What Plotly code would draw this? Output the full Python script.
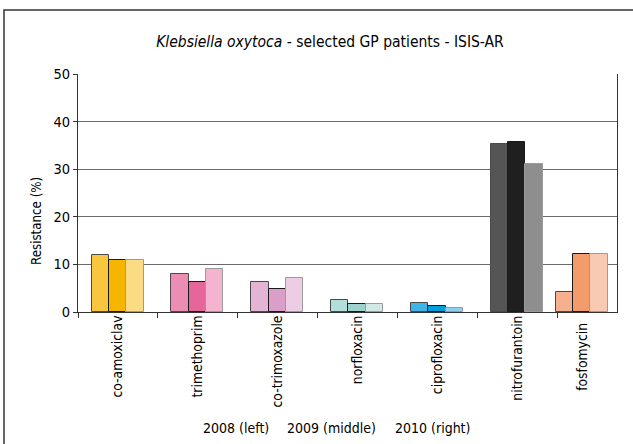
import plotly.graph_objects as go

categories = ["co-amoxiclav", "trimethoprim", "co-trimoxazole", "norfloxacin",
              "ciprofloxacin", "nitrofurantoin", "fosfomycin"]
years = ["2008", "2009", "2010"]
res_2008 = [11.9, 7.9, 6.4, 2.5, 1.9, 35.2, 4.1]
res_2009 = [10.9, 6.2, 4.9, 1.7, 1.2, 35.8, 12.2]
res_2010 = [10.9, 9.0, 7.1, 1.7, 0.8, 31.1, 12.2]
series = [res_2008, res_2009, res_2010]
y_ticks = [0, 10, 20, 30, 40, 50]
legend_texts = ["2008 (left)", "2009 (middle)", "2010 (right)"]

# styling
colors_2008 = ["#F8C73E", "#EE8DB4", "#E3B4D4", "#B3DEDA", "#3EB5E6", "#555555", "#F5B18F"]
colors_2009 = ["#F6B500", "#E5679A", "#DA9FC8", "#9ED2CD", "#009FDB", "#1F1F1F", "#F29B6B"]
colors_2010 = ["#FBDC84", "#F4B3CE", "#ECCDE4", "#D0E9E7", "#8CCFEF", "#8E8E8E", "#F8CAB2"]
bar_colors = [colors_2008, colors_2009, colors_2010]
edge_colors = ["#4a4a4a", "#1a1a1a", "#9a9a9a"]

FONT = "DejaVu Sans Condensed, Liberation Sans, Arial, sans-serif"
W, H = 633, 444
ML, MR, MT, MB = 78, 16, 74, 132

bar_w = 0.217
start = -0.33
last_shift = -0.19

fig = go.Figure()
for i, (yr, vals) in enumerate(zip(years, series)):
    offs = [start + i * bar_w] * len(categories)
    offs[-1] += last_shift
    fig.add_trace(go.Bar(
        x=categories, y=vals, name=yr,
        width=bar_w, offset=offs,
        marker=dict(color=bar_colors[i], line=dict(color=edge_colors[i], width=1)),
        showlegend=False,
    ))

fig.update_layout(
    width=W, height=H,
    margin=dict(l=ML, r=MR, t=MT, b=MB),
    paper_bgcolor="white", plot_bgcolor="white",
    font=dict(family=FONT, size=13, color="#000000"),
    title=dict(text="<i>Klebsiella oxytoca</i> - selected GP patients - ISIS-AR",
               x=330 / W, xanchor="center", xref="container",
               y=1 - 42 / H, yanchor="middle", yref="container",
               font=dict(size=15.5, family=FONT, color="#000000")),
    bargap=0, barmode="overlay",
)

fig.update_xaxes(
    type="category", range=[-0.5, 6.25],
    tickmode="array", tickvals=categories,
    ticktext=categories[:-1] + [""],
    tickangle=-90, tickson="boundaries",
    ticks="outside", ticklen=5, tickcolor="#333333",
    ticklabelstandoff=-3,
    showline=True, linecolor="#333333", linewidth=1,
    showgrid=False, tickfont=dict(size=13.8),
)
fig.update_yaxes(
    range=[0, 50], tickvals=y_ticks,
    ticks="outside", ticklen=4, tickcolor="#333333",
    showline=True, linecolor="#333333", linewidth=1, mirror=True,
    showgrid=True, gridcolor="#6a6a6a", gridwidth=1.2, zeroline=False,
    tickfont=dict(size=14.5),
)

# last category label (squeezed category)
fig.add_annotation(x=6 + last_shift, xref="x", y=-9 / (H - MT - MB), yref="paper",
                   text=categories[-1], textangle=-90, showarrow=False,
                   xanchor="center", yanchor="top", font=dict(size=13.8))

# y-axis title
fig.add_annotation(x=(36 - ML) / (W - ML - MR), xref="paper",
                   y=1 - (221 - MT) / (H - MT - MB), yref="paper",
                   text="Resistance (%)", textangle=-90, showarrow=False,
                   xanchor="center", yanchor="middle", font=dict(size=13.2))

# year legend texts
for txt, cx in zip(legend_texts, [236, 331, 432]):
    fig.add_annotation(x=(cx - ML) / (W - ML - MR), xref="paper",
                       y=-(428 - (H - MB)) / (H - MT - MB), yref="paper",
                       text=txt, showarrow=False, xanchor="center", yanchor="middle",
                       font=dict(size=14))

# outer frame (top and left edges visible)
pw, ph = W - ML - MR, H - MT - MB
fig.add_shape(type="rect", xref="paper", yref="paper",
              x0=(4 - ML) / pw, x1=(W + 20 - ML) / pw,
              y0=-(H + 20 - (H - MB)) / ph, y1=1 + (MT - 10) / ph,
              line=dict(color="#333333", width=1.5), fillcolor="rgba(0,0,0,0)",
              layer="below")

fig.write_html("out.html", config={"displayModeBar": False},
               post_script="document.body.style.margin='0';document.body.style.padding='0';")
